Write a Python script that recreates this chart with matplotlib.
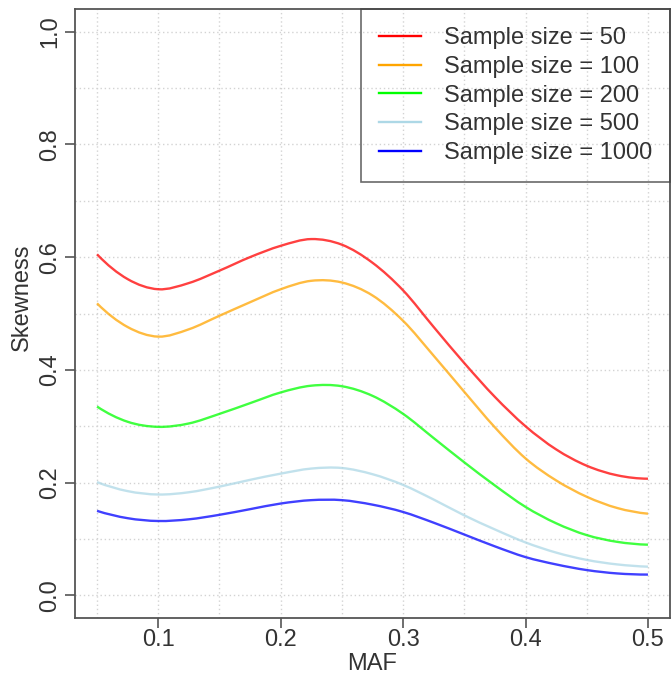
import matplotlib
matplotlib.use("Agg")
import matplotlib.pyplot as plt
from matplotlib.path import Path
from matplotlib.patches import PathPatch
from matplotlib.lines import Line2D
import numpy as np

plt.rcParams['font.family'] = ['Liberation Sans', 'DejaVu Sans']

maf = [0.05, 0.075, 0.1, 0.125, 0.15, 0.175, 0.2, 0.225, 0.25, 0.275,
       0.3, 0.325, 0.35, 0.375, 0.4, 0.425, 0.45, 0.475, 0.5]

skew_50 = [0.605, 0.561, 0.543, 0.554, 0.576, 0.600, 0.620, 0.632, 0.622, 0.590,
           0.541, 0.476, 0.412, 0.352, 0.300, 0.259, 0.230, 0.213, 0.207]
skew_100 = [0.518, 0.476, 0.459, 0.472, 0.496, 0.520, 0.543, 0.558, 0.555, 0.532,
            0.487, 0.425, 0.361, 0.298, 0.243, 0.204, 0.175, 0.155, 0.145]
skew_200 = [0.335, 0.308, 0.299, 0.305, 0.322, 0.341, 0.360, 0.372, 0.371, 0.354,
            0.322, 0.279, 0.236, 0.195, 0.157, 0.128, 0.107, 0.095, 0.090]
skew_500 = [0.201, 0.185, 0.179, 0.183, 0.193, 0.205, 0.216, 0.225, 0.226, 0.215,
            0.196, 0.170, 0.142, 0.117, 0.094, 0.076, 0.063, 0.055, 0.051]
skew_1000 = [0.150, 0.137, 0.132, 0.135, 0.143, 0.153, 0.163, 0.169, 0.169, 0.161,
             0.148, 0.129, 0.108, 0.087, 0.068, 0.055, 0.045, 0.039, 0.037]

labels = ["Sample size = 50", "Sample size = 100", "Sample size = 200",
          "Sample size = 500", "Sample size = 1000"]
colors = ["#FF0000", "#FFA500", "#00FF00", "#ADD8E6", "#0000FF"]
series = [skew_50, skew_100, skew_200, skew_500, skew_1000]


def smooth_path(xs, ys):
    """Catmull-Rom spline through the data points, as cubic Bezier segments."""
    p = np.column_stack([xs, ys]).astype(float)
    n = len(p)
    # quadratic extrapolation for the end tangents
    first = 3 * p[0] - 3 * p[1] + p[2]
    last = 3 * p[-1] - 3 * p[-2] + p[-3]
    q = np.vstack([first, p, last])
    verts = [p[0]]
    codes = [Path.MOVETO]
    for i in range(1, n):
        p0, p1, p2, p3 = q[i - 1], q[i], q[i + 1], q[i + 2]
        c1 = p1 + (p2 - p0) / 6.0
        c2 = p2 - (p3 - p1) / 6.0
        verts += [c1, c2, p2]
        codes += [Path.CURVE4] * 3
    return Path(verts, codes)


fig = plt.figure(figsize=(6.71, 6.79), dpi=100)
ax = fig.add_axes([75/671, 1-618/679, 595/671, 609/679])

# grid
for gx in np.arange(0.05, 0.5001, 0.05):
    ax.axvline(gx, color="#D3D3D3", lw=1.0, ls=(0, (1, 2)), zorder=0)
for gy in np.arange(0.0, 1.0001, 0.1):
    ax.axhline(gy, color="#D3D3D3", lw=1.0, ls=(0, (1, 2)), zorder=0)

handles = []
for s, c, l in zip(series, colors, labels):
    patch = PathPatch(smooth_path(maf, s), facecolor="none", edgecolor=c,
                      lw=1.7, alpha=0.75, zorder=2)
    ax.add_patch(patch)
    handles.append(Line2D([], [], color=c, lw=1.7, label=l))

ax.set_xlim(0.032, 0.518)
ax.set_ylim(-0.04, 1.04)
ax.set_xticks([0.1, 0.2, 0.3, 0.4, 0.5])
ax.set_xticklabels(["0.1", "0.2", "0.3", "0.4", "0.5"])
ax.set_yticks([0.0, 0.2, 0.4, 0.6, 0.8, 1.0])
ax.set_yticklabels(["0.0", "0.2", "0.4", "0.6", "0.8", "1.0"], rotation=90, va="center")

for sp in ax.spines.values():
    sp.set_color("#555555")
    sp.set_linewidth(1.3)

ax.tick_params(axis="both", direction="out", length=7, width=1.2, color="#555555",
               labelsize=17, labelcolor="#333333")
ax.tick_params(axis="x", pad=1)
ax.tick_params(axis="y", pad=3)

ax.set_xlabel("MAF", fontsize=17, color="#333333")
ax.set_ylabel("Skewness", fontsize=17, color="#333333")
ax.xaxis.set_label_coords(0.5, -(664-618)/609)
ax.yaxis.set_label_coords(-(75-22)/595, (618-297)/609)
ax.xaxis.label.set_va("center")
ax.yaxis.label.set_va("center")

leg = ax.legend(handles=handles, loc="upper right", bbox_to_anchor=(1, 1), borderaxespad=0,
                fontsize=17, frameon=True, fancybox=False, handlelength=1.78,
                handletextpad=0.95, labelspacing=0.29, borderpad=0.76,
                labelcolor="#333333")
leg.get_frame().set_edgecolor("#444444")
leg.get_frame().set_facecolor("none")
leg.get_frame().set_linewidth(1.2)

fig.savefig("out.png", dpi=100)
